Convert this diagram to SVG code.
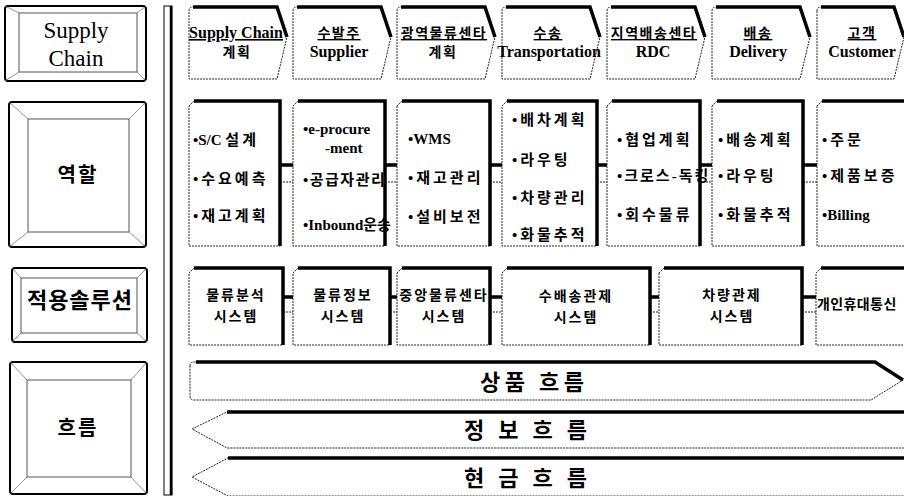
<svg xmlns="http://www.w3.org/2000/svg" width="904" height="496" viewBox="0 0 904 496">
<style>
.bo{fill:#fff;stroke:#000;stroke-width:2}
.bi{fill:none;stroke:#555;stroke-width:1}
.bd{stroke:#777;stroke-width:0.8}
.body{fill:#fff;stroke:#222;stroke-width:1;stroke-dasharray:2 1}
.sh{fill:none;stroke:#000;stroke-width:3.5;stroke-linejoin:miter}
.pk{fill:none;stroke:#000;stroke-width:3.5}
.pn{fill:none;stroke:#222;stroke-width:1;stroke-dasharray:2 1}
.kr{font-family:"Noto Sans CJK KR",sans-serif;font-weight:bold;fill:#000}
.sf{font-family:"Liberation Serif","Noto Sans CJK KR",serif;font-weight:bold;fill:#000}
.lab{font-family:"Liberation Serif",serif;font-size:23px;fill:#000;text-anchor:middle}
.ct1{font-family:"Noto Sans CJK KR",sans-serif;font-weight:bold;font-size:14px;letter-spacing:1.5px;text-anchor:middle;text-decoration:underline}
.ct1s{font-family:"Liberation Serif",serif;font-weight:bold;font-size:16px;text-anchor:middle;text-decoration:underline}
.ct2{font-family:"Liberation Serif","Noto Sans CJK KR",serif;font-weight:bold;font-size:16px;text-anchor:middle}
.ct2k{font-family:"Noto Sans CJK KR",sans-serif;font-weight:bold;font-size:14px;letter-spacing:1.5px;text-anchor:middle}
.rt{font-size:15px}
.ls{letter-spacing:3px}
.st{font-family:"Noto Sans CJK KR",sans-serif;font-weight:bold;font-size:14px;letter-spacing:2px;text-anchor:middle}
.st0{font-family:"Noto Sans CJK KR",sans-serif;font-weight:bold;font-size:14px;letter-spacing:0.4px;text-anchor:start}
.fl{font-family:"Noto Sans CJK KR",sans-serif;font-weight:bold;font-size:22px;letter-spacing:4.5px}
</style>
<rect width="904" height="496" fill="#fff"/>

<!-- left labels -->
<g id="lab-sc">
<rect class="bo" x="5" y="6" width="141" height="75" rx="3"/>
<rect class="bi" x="19" y="13" width="118" height="59"/>
<path class="bd" d="M5,6 L19,13 M146,6 L137,13 M5,81 L19,72 M146,81 L137,72"/>
<text class="lab" x="76" y="38">Supply</text>
<text class="lab" x="76" y="66">Chain</text>
</g>
<g id="lab-role">
<rect class="bo" x="9" y="102" width="137" height="145" rx="3"/>
<rect class="bi" x="28" y="119" width="101" height="113"/>
<path class="bd" d="M9,102 L28,119 M146,102 L129,119 M9,247 L28,232 M146,247 L129,232"/>
<text class="kr" x="78" y="182" font-size="20" text-anchor="middle" letter-spacing="2">역할</text>
</g>
<g id="lab-sol">
<rect class="bo" x="12" y="268" width="135" height="74" rx="3"/>
<rect class="bi" x="21" y="278" width="116" height="55"/>
<path class="bd" d="M12,268 L21,278 M147,268 L137,278 M12,342 L21,333 M147,342 L137,333"/>
<text class="kr" x="80" y="308" font-size="22" text-anchor="middle" letter-spacing="1">적용솔루션</text>
</g>
<g id="lab-flow">
<rect class="bo" x="10" y="362" width="137" height="132" rx="3"/>
<rect class="bi" x="27" y="380" width="104" height="97"/>
<path class="bd" d="M10,362 L27,380 M147,362 L131,380 M10,494 L27,477 M147,494 L131,477"/>
<text class="kr" x="78" y="435" font-size="20" text-anchor="middle" letter-spacing="2">흐름</text>
</g>

<g id="divider">
<rect x="164" y="6" width="8" height="489" fill="#fff" stroke="#000" stroke-width="1"/>
<line x1="171" y1="6" x2="171" y2="495" stroke="#000" stroke-width="2.5"/>
</g>

<!-- chevrons -->
<g id="chev1">
<path class="body" d="M189,11 Q189,7 193,7 L277,7 L287,37 L277,79 L189,79 Z"/>
<path class="sh" d="M193,7 L277,7 L287,37"/>
<text class="ct1s" x="236" y="38">Supply Chain</text>
<text class="ct2k" x="237" y="57">계획</text>
</g>
<g id="chev2">
<path class="body" d="M293,11 Q293,7 297,7 L381,7 L391,37 L381,79 L293,79 Z"/>
<path class="sh" d="M297,7 L381,7 L391,37"/>
<text class="ct1" x="339" y="38">수발주</text>
<text class="ct2" x="339" y="57">Supplier</text>
</g>
<g id="chev3">
<path class="body" d="M397,11 Q397,7 401,7 L485,7 L495,37 L485,79 L397,79 Z"/>
<path class="sh" d="M401,7 L485,7 L495,37"/>
<text class="ct1" x="444" y="38">광역물류센타</text>
<text class="ct2k" x="443" y="57">계획</text>
</g>
<g id="chev4">
<path class="body" d="M502,11 Q502,7 506,7 L590,7 L600,37 L590,79 L502,79 Z"/>
<path class="sh" d="M506,7 L590,7 L600,37"/>
<text class="ct1" x="548" y="38">수송</text>
<text class="ct2" x="549" y="57">Transportation</text>
</g>
<g id="chev5">
<path class="body" d="M607,11 Q607,7 611,7 L695,7 L705,37 L695,79 L607,79 Z"/>
<path class="sh" d="M611,7 L695,7 L705,37"/>
<text class="ct1" x="654" y="38">지역배송센타</text>
<text class="ct2" x="653" y="57">RDC</text>
</g>
<g id="chev6">
<path class="body" d="M712,11 Q712,7 716,7 L800,7 L810,37 L800,79 L712,79 Z"/>
<path class="sh" d="M716,7 L800,7 L810,37"/>
<text class="ct1" x="758" y="38">배송</text>
<text class="ct2" x="758" y="57">Delivery</text>
</g>
<g id="chev7">
<path class="body" d="M817,11 Q817,7 821,7 L894,7 L904,37 L894,79 L817,79 Z"/>
<path class="sh" d="M821,7 L894,7 L904,37"/>
<text class="ct1" x="862" y="38">고객</text>
<text class="ct2" x="862" y="57">Customer</text>
</g>

<!-- connectors -->
<g id="connectors">
<path class="pk" d="M280,165 H293 M385,165 H397 M490,165 H502 M597,165 H607 M700,165 H712 M803,165 H817"/>
<path class="pn" d="M280,182 H293 M385,182 H397 M490,182 H502 M597,182 H607 M700,182 H712 M803,182 H817"/>
<path class="pk" d="M283,297 H293 M390,297 H397 M490,297 H502 M650,297 H659 M802,297 H816"/>
<path class="pn" d="M283,312 H293 M390,312 H397 M490,312 H502 M650,312 H659 M802,312 H816"/>
</g>

<!-- role boxes -->
<g id="role1">
<path class="body" d="M189,106 L194,101 L280,101 L280,246 L189,246 Z"/>
<path class="sh" d="M194,101 L280,101 L280,246"/>
<text class="sf rt" x="193" y="145">•S/C <tspan class="ls">설계</tspan></text>
<text class="sf rt ls" x="193" y="184">•수요예측</text>
<text class="sf rt ls" x="193" y="221">•재고계획</text>
</g>
<g id="role2">
<path class="body" d="M293,106 L298,101 L385,101 L385,246 L293,246 Z"/>
<path class="sh" d="M298,101 L385,101 L385,246"/>
<text class="sf rt" x="303" y="134">•e-procure</text>
<text class="sf rt" x="325" y="153">-ment</text>
<text class="sf rt" x="303" y="185" letter-spacing="1.5">•공급자관리</text>
<text class="sf rt" x="303" y="230">•Inbound운송</text>
</g>
<g id="role3">
<path class="body" d="M397,106 L402,101 L490,101 L490,246 L397,246 Z"/>
<path class="sh" d="M402,101 L490,101 L490,246"/>
<text class="sf rt" x="408" y="144">•WMS</text>
<text class="sf rt ls" x="408" y="183">•재고관리</text>
<text class="sf rt ls" x="408" y="222">•설비보전</text>
</g>
<g id="role4">
<path class="body" d="M502,106 L507,101 L597,101 L597,246 L502,246 Z"/>
<path class="sh" d="M507,101 L597,101 L597,246"/>
<text class="sf rt ls" x="512" y="125">•배차계획</text>
<text class="sf rt ls" x="512" y="165">•라우팅</text>
<text class="sf rt ls" x="512" y="203">•차량관리</text>
<text class="sf rt ls" x="512" y="240">•화물추적</text>
</g>
<g id="role5">
<path class="body" d="M607,106 L612,101 L700,101 L700,246 L607,246 Z"/>
<path class="sh" d="M612,101 L700,101 L700,246"/>
<text class="sf rt ls" x="617" y="145">•협업계획</text>
<text class="sf rt" x="617" y="181" letter-spacing="2">•크로스-독킹</text>
<text class="sf rt ls" x="617" y="220">•회수물류</text>
</g>
<g id="role6">
<path class="body" d="M712,106 L717,101 L803,101 L803,246 L712,246 Z"/>
<path class="sh" d="M717,101 L803,101 L803,246"/>
<text class="sf rt ls" x="718" y="145">•배송계획</text>
<text class="sf rt ls" x="718" y="181">•라우팅</text>
<text class="sf rt ls" x="718" y="220">•화물추적</text>
</g>
<g id="role7">
<path class="body" d="M817,106 L822,101 L910,101 L910,246 L817,246 Z"/>
<path class="sh" d="M822,101 L910,101"/>
<text class="sf rt ls" x="822" y="145">•주문</text>
<text class="sf rt ls" x="822" y="181">•제품보증</text>
<text class="sf rt" x="822" y="220">•Billing</text>
</g>

<!-- solution boxes -->
<g id="sol1">
<path class="body" d="M189,273 L194,268 L283,268 L283,345 L189,345 Z"/>
<path class="sh" d="M194,268 L283,268 L283,345"/>
<text class="st" x="236" y="300">물류분석</text>
<text class="st" x="236" y="321">시스템</text>
</g>
<g id="sol2">
<path class="body" d="M293,273 L298,268 L390,268 L390,345 L293,345 Z"/>
<path class="sh" d="M298,268 L390,268 L390,345"/>
<text class="st" x="343" y="300">물류정보</text>
<text class="st" x="343" y="321">시스템</text>
</g>
<g id="sol3">
<path class="body" d="M397,273 L402,268 L490,268 L490,345 L397,345 Z"/>
<path class="sh" d="M402,268 L490,268 L490,345"/>
<text class="st" x="444" y="300">중앙물류센타</text>
<text class="st" x="444" y="321">시스템</text>
</g>
<g id="sol4">
<path class="body" d="M502,273 L507,268 L650,268 L650,345 L502,345 Z"/>
<path class="sh" d="M507,268 L650,268 L650,345"/>
<text class="st" x="576" y="301">수배송관제</text>
<text class="st" x="576" y="322">시스템</text>
</g>
<g id="sol5">
<path class="body" d="M659,273 L664,268 L802,268 L802,345 L659,345 Z"/>
<path class="sh" d="M664,268 L802,268 L802,345"/>
<text class="st" x="732" y="300">차량관제</text>
<text class="st" x="732" y="321">시스템</text>
</g>
<g id="sol6">
<path class="body" d="M816,273 L821,268 L910,268 L910,345 L816,345 Z"/>
<path class="sh" d="M821,268 L910,268"/>
<text class="st0" x="817" y="309">개인휴대통신</text>
</g>

<!-- flows -->
<g id="flow-goods">
<path class="body" d="M190,366 Q190,362 194,362 L875,362 L903,380 L871,400 L194,400 Q190,400 190,396 Z"/>
<path class="sh" d="M196,362 L875,362 L903,380"/>
<text class="fl" x="480" y="390">상품 흐름</text>
</g>
<g id="flow-info">
<path class="body" d="M910,412 L227,412 L192,429 L227,448 L910,448"/>
<path class="sh" d="M227,412 L910,412"/>
<text class="fl" x="464" y="438">정 보 흐 름</text>
</g>
<g id="flow-cash">
<path class="body" d="M910,458 L228,458 L192,477 L228,496 L910,496"/>
<path class="sh" d="M228,458 L910,458"/>
<text class="fl" x="464" y="486">현 금 흐 름</text>
</g>
</svg>
